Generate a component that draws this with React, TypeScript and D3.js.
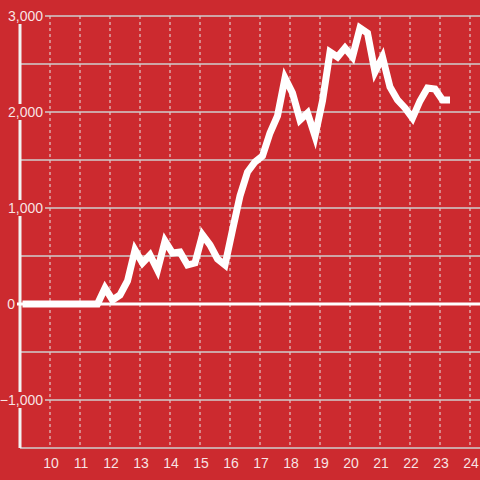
import React from "react";
import * as d3 from "d3";

const times: string[] = [
  "9:05", "9:20", "9:35", "9:50", "10:05", "10:20", "10:35", "10:50", "11:05", "11:20", "11:35",
  "11:50", "12:05", "12:20", "12:35", "12:50", "13:05", "13:20", "13:35", "13:50", "14:05",
  "14:20", "14:35", "14:50", "15:05", "15:20", "15:35", "15:50", "16:05", "16:20", "16:35",
  "16:50", "17:05", "17:20", "17:35", "17:50", "18:05", "18:20", "18:35", "18:50", "19:05",
  "19:20", "19:35", "19:50", "20:05", "20:20", "20:35", "20:50", "21:05", "21:20", "21:35",
  "21:50", "22:05", "22:20", "22:35", "22:50", "23:05", "23:20",
];

const values: number[] = [
  0, 0, 0, 0, 0, 0, 0, 0, 0, 0, 0,
  167, 42, 94, 240, 562, 427, 510, 354, 656, 531,
  542, 406, 427, 719, 615, 469, 406, 771, 1125, 1375,
  1479, 1542, 1781, 1958, 2354, 2198, 1917, 1990, 1750, 2115,
  2625, 2573, 2667, 2573, 2875, 2823, 2417, 2573, 2260, 2125,
  2042, 1937, 2115, 2250, 2240, 2125, 2125,
];

const xTicks: number[] = [10, 11, 12, 13, 14, 15, 16, 17, 18, 19, 20, 21, 22, 23, 24];
const yMajor: number[] = [-1000, 0, 1000, 2000, 3000];
const yMinor: number[] = [-1500, -500, 500, 1500, 2500];

const W = 480;
const H = 480;
const BG = "#cc2a2f";
const FONT = "'Liberation Sans', Arial, sans-serif";

function toHour(t: string): number {
  const [h, m] = t.split(":").map(Number);
  return h + m / 60;
}

export default function App() {
  const x = d3.scaleLinear().domain([9, 24 + 1 / 3]).range([20, 480]);
  const y = d3.scaleLinear().domain([-1500, 3000]).range([448, 16]);
  const fmt = d3.format(",");

  const pts: [number, number][] = times.map((t, i) => [toHour(t), values[i]]);
  const line = d3
    .line<[number, number]>()
    .x((d) => x(d[0]))
    .y((d) => y(d[1]));

  return (
    <svg
      width={W}
      height={H}
      style={{ position: "absolute", left: 0, top: 0, display: "block", background: BG }}
    >
      <rect x={0} y={0} width={W} height={H} fill={BG} />
      {/* vertical dashed grid */}
      {xTicks.map((t) => (
        <line
          key={"vx" + t}
          x1={x(t)}
          x2={x(t)}
          y1={y(3000)}
          y2={y(-1500)}
          stroke="#e6e6e6"
          strokeWidth={1}
          strokeDasharray="3,3"
        />
      ))}
      {/* minor horizontal grid */}
      {yMinor.filter((v) => v > -1500).map((v) => (
        <line
          key={"mn" + v}
          x1={21}
          x2={W}
          y1={y(v)}
          y2={y(v)}
          stroke="#cfcfcf"
          strokeWidth={1.3}
        />
      ))}
      {/* major horizontal grid */}
      {yMajor.filter((v) => v !== 0).map((v) => (
        <line
          key={"mj" + v}
          x1={45}
          x2={W}
          y1={y(v)}
          y2={y(v)}
          stroke="#cfcfcf"
          strokeWidth={1.3}
        />
      ))}
      {/* bottom axis */}
      <line x1={20} x2={W} y1={y(-1500)} y2={y(-1500)} stroke="#cfcfcf" strokeWidth={1.3} />
      {/* y axis */}
      <line x1={20} x2={20} y1={y(3000)} y2={y(-1500)} stroke="#f2f2f2" strokeWidth={3} />
      {/* zero line */}
      <line x1={17} x2={W} y1={y(0)} y2={y(0)} stroke="#ffffff" strokeWidth={3} />
      {/* y labels with background */}
      {yMajor.map((v) => (
        <g key={"yl" + v}>
          {v !== 0 && <rect x={14} y={y(v) - 8} width={30} height={16} fill={BG} />}
          <text
            x={v === 0 ? 15 : 43}
            y={y(v)}
            dy="0.35em"
            textAnchor="end"
            fontFamily={FONT}
            fontSize={14}
            fill="#ffffff"
            fillOpacity={0.88}
          >
            {fmt(v)}
          </text>
        </g>
      ))}
      {/* x labels */}
      {xTicks.map((t) => (
        <text
          key={"xl" + t}
          x={x(t) + 1}
          y={468}
          textAnchor="middle"
          fontFamily={FONT}
          fontSize={14}
          fill="#ffffff"
          fillOpacity={0.88}
        >
          {t}
        </text>
      ))}
      {/* data line */}
      <path
        d={line(pts) || ""}
        fill="none"
        stroke="#ffffff"
        strokeWidth={7}
        strokeLinejoin="miter"
        strokeLinecap="butt"
      />
    </svg>
  );
}
